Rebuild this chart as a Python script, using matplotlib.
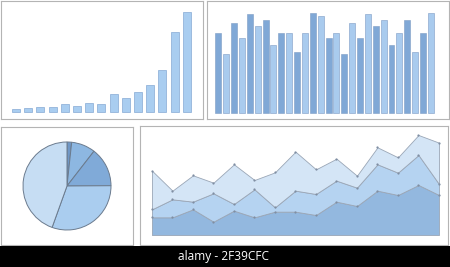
import numpy as np
import matplotlib
matplotlib.use('Agg')
import matplotlib.pyplot as plt

# growth bars (top left)
growth = [9, 13, 16, 16, 25, 18, 26, 23, 53, 41, 60, 80, 125, 239, 300]

# paired bars (top right)
paired = [238, 176, 268, 223, 296, 260, 279, 202, 238, 238, 181, 238, 300, 291,
          223, 238, 176, 268, 223, 296, 260, 279, 202, 238, 279, 181, 238, 300]

# pie shares (clockwise from top)
shares = [1.7, 8.8, 14.4, 30.6, 44.5]

# stacked areas (bottom right), one list per layer
layer_low = [53, 53, 77, 40, 73, 53, 70, 70, 60, 100, 87, 133, 120, 150, 120]
layer_mid = [24, 54, 23, 85, 20, 84, 13, 63, 63, 63, 55, 79, 67, 90, 33]
layer_top = [116, 26, 79, 32, 119, 28, 105, 117, 74, 66, 36, 51, 46, 60, 124]

W, H = 450, 267
frame_col = '#b4b4b4'


def panel(x0, y0, x1, y1):
    # pixel box -> axes
    ax = fig.add_axes([x0 / W, 1 - y1 / H, (x1 - x0) / W, (y1 - y0) / H])
    ax.set_xticks([])
    ax.set_yticks([])
    for s in ax.spines.values():
        s.set_color(frame_col)
        s.set_linewidth(0.8)
    return ax


fig = plt.figure(figsize=(4.5, 2.67), dpi=100)
fig.patch.set_facecolor('white')

# top left
ax1 = panel(1, 1, 203, 119)
x = np.arange(len(growth))
ax1.bar(x, growth, width=0.65, color='#a9cdf0', edgecolor='#86aad4', linewidth=0.5)
ax1.set_xlim(-1.23, 15.33)
ax1.set_ylim(-21, 333)

# top right
ax2 = panel(207, 1, 449, 119)
x = np.arange(len(paired))
cols = ['#80a8d6' if i % 2 == 0 else '#a9cbee' for i in x]
ax2.bar(x, paired, width=0.75, color=cols, edgecolor='#7d9cc4', linewidth=0.4)
ax2.set_xlim(-1.44, 29.3)
ax2.set_ylim(-19, 335)

# bottom left pie
ax3 = panel(1, 127, 133, 245)
ax3.pie(shares, startangle=90, counterclock=False, frame=True,
        colors=['#6f97c6', '#8db7e1', '#80aad8', '#aacdef', '#c6ddf3'],
        wedgeprops=dict(edgecolor='#6b7b8e', linewidth=0.7))
r = 44
ax3.set_aspect('auto')
ax3.set_xlim((1 - 67) / r, (133 - 67) / r)
ax3.set_ylim(-(245 - 186) / r, (186 - 127) / r)
ax3.set_xticks([])
ax3.set_yticks([])
for s in ax3.spines.values():
    s.set_visible(True)
    s.set_color(frame_col)
    s.set_linewidth(0.8)

# bottom right stacked area
ax4 = panel(140, 126, 448, 245)
x = np.arange(len(layer_low))
ax4.stackplot(x, layer_low, layer_mid, layer_top,
              colors=['#93b8df', '#b5d3f1', '#d4e5f6'],
              edgecolor='#9aa6b6', linewidth=0.6)
c1 = np.array(layer_low)
c2 = c1 + np.array(layer_mid)
c3 = c2 + np.array(layer_top)
for c in (c1, c2, c3):
    ax4.plot(x, c, 'o', ms=1.6, color='#7f8ea3', mec='none')
ax4.set_xlim(-0.583, 14.44)
ax4.set_ylim(-30, 327)

# watermark band
band = fig.add_axes([0, 0, 1, 21 / H])
band.set_facecolor('black')
band.set_xticks([])
band.set_yticks([])
for s in band.spines.values():
    s.set_visible(False)
band.text(224 / W, 0.5, 'alamy - 2F39CFC', color='white', fontsize=8.6,
          ha='center', va='center', transform=band.transAxes, family='Open Sans')

fig.savefig('out.png', dpi=100)
